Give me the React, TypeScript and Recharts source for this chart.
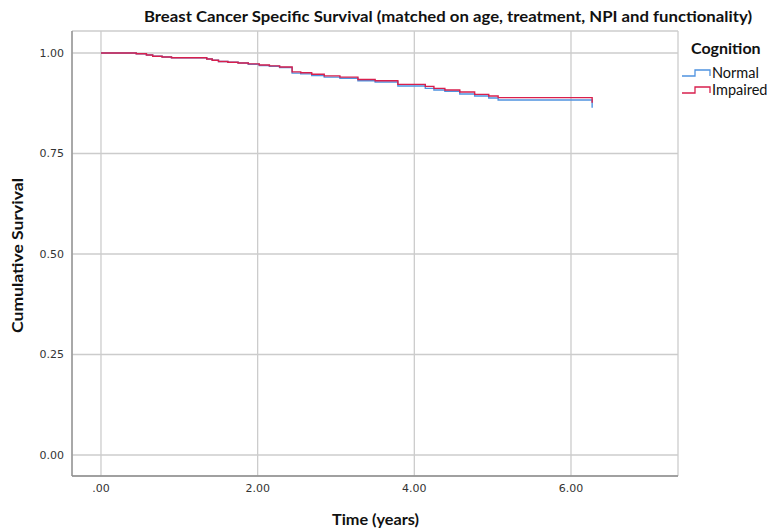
import React from "react";
import { LineChart, Line, XAxis, YAxis, CartesianGrid } from "recharts";

// Kaplan–Meier step estimates (time in years, cumulative survival)
const normalTimes = [
  0, 0.45, 0.58, 0.66, 0.78, 0.9, 1.35, 1.42, 1.5, 1.62, 1.75, 1.88, 2.02, 2.15,
  2.28, 2.44, 2.55, 2.69, 2.85, 3.05, 3.28, 3.5, 3.79, 4.14, 4.25, 4.39, 4.58,
  4.77, 4.95, 5.07, 6.27,
];
const normalSurvival = [
  1, 0.998, 0.995, 0.992, 0.99, 0.988, 0.985, 0.982, 0.979, 0.977, 0.975, 0.972,
  0.969, 0.967, 0.964, 0.95, 0.948, 0.944, 0.94, 0.937, 0.931, 0.928, 0.918,
  0.912, 0.908, 0.905, 0.898, 0.893, 0.888, 0.883, 0.864,
];

const impairedTimes = [
  0, 0.45, 0.58, 0.66, 0.78, 0.9, 1.35, 1.42, 1.5, 1.62, 1.75, 1.88, 2.02, 2.15,
  2.28, 2.44, 2.55, 2.69, 2.85, 3.05, 3.28, 3.5, 3.79, 4.14, 4.25, 4.39, 4.58,
  4.77, 4.95, 5.07, 6.27,
];
const impairedSurvival = [
  1, 0.998, 0.995, 0.992, 0.99, 0.988, 0.985, 0.982, 0.979, 0.977, 0.975, 0.973,
  0.97, 0.968, 0.965, 0.953, 0.951, 0.947, 0.943, 0.94, 0.934, 0.931, 0.922,
  0.917, 0.912, 0.908, 0.903, 0.897, 0.893, 0.889, 0.876,
];

const xTicks = [0, 2, 4, 6];
const yTicks = [0, 0.25, 0.5, 0.75, 1];

const groups = [
  { name: "Normal", color: "#4f93e0" },
  { name: "Impaired", color: "#d81f4d" },
];

const toRows = (times: number[], values: number[]) =>
  times.map((t, i) => ({ t, s: values[i] }));

const normalData = toRows(normalTimes, normalSurvival);
const impairedData = toRows(impairedTimes, impairedSurvival);

const fmtX = (v: number) => (v === 0 ? ".00" : v.toFixed(2));
const fmtY = (v: number) => v.toFixed(2);

const W = 773;
const H = 532;
const FONT = "Lato, 'Open Sans', sans-serif";

function StepLegend() {
  return (
    <div
      style={{
        position: "absolute",
        left: 681,
        top: 38,
        fontFamily: FONT,
        color: "#111",
      }}
    >
      <div style={{ fontWeight: 700, fontSize: 16, lineHeight: "20px", marginLeft: 10, marginBottom: 6 }}>
        Cognition
      </div>
      {groups.map((g) => (
        <div
          key={g.name}
          style={{ display: "flex", alignItems: "center", height: 17, fontSize: 14.5 }}
        >
          <svg width={31} height={10} style={{ marginRight: 0 }}>
            <polyline
              points="1,8 14,8 14,2 29,2 29,8"
              fill="none"
              stroke={g.color}
              strokeWidth={1.3}
            />
          </svg>
          <span>{g.name}</span>
        </div>
      ))}
    </div>
  );
}

export default function App() {
  return (
    <div style={{ position: "absolute", left: 0, top: 0, width: W, height: H, background: "#fff" }}>
      <LineChart
        width={W}
        height={H}
        margin={{ top: 31, right: 95, bottom: 26, left: 0 }}
      >
        <CartesianGrid stroke="#cccccc" strokeWidth={1.3} />
        <XAxis
          type="number"
          dataKey="t"
          domain={[-0.37, 7.366]}
          ticks={xTicks}
          tickFormatter={fmtX}
          allowDataOverflow
          height={30}
          axisLine={{ stroke: "#8c8c8c", strokeWidth: 1.3 }}
          tickLine={false}
          tick={{ fill: "#333", fontSize: 11, fontFamily: "'DejaVu Sans', sans-serif" }}
        />
        <YAxis
          type="number"
          dataKey="s"
          domain={[-0.0522, 1.0547]}
          ticks={yTicks}
          tickFormatter={fmtY}
          allowDataOverflow
          width={72}
          axisLine={{ stroke: "#8c8c8c", strokeWidth: 1.3 }}
          tickLine={false}
          tick={{ fill: "#333", fontSize: 11, fontFamily: "'DejaVu Sans', sans-serif" }}
        />
        <Line
          data={normalData}
          dataKey="s"
          name="Normal"
          type="stepAfter"
          stroke={groups[0].color}
          strokeWidth={1.4}
          dot={false}
          isAnimationActive={false}
        />
        <Line
          data={impairedData}
          dataKey="s"
          name="Impaired"
          type="stepAfter"
          stroke={groups[1].color}
          strokeWidth={1.4}
          dot={false}
          isAnimationActive={false}
        />
      </LineChart>
      <StepLegend />
      <svg
        width={W}
        height={H}
        style={{ position: "absolute", left: 0, top: 0, pointerEvents: "none" }}
      >
        <text
          x={448}
          y={22}
          textAnchor="middle"
          fontFamily={FONT}
          fontWeight={700}
          fontSize={15.5}
          fill="#111"
          textLength={608}
          lengthAdjust="spacingAndGlyphs"
        >
          Breast Cancer Specific Survival (matched on age, treatment, NPI and functionality)
        </text>
        <text
          x={375.5}
          y={525}
          textAnchor="middle"
          fontFamily={FONT}
          fontWeight={700}
          fontSize={16}
          fill="#111"
          textLength={87}
          lengthAdjust="spacingAndGlyphs"
        >
          Time (years)
        </text>
        <text
          x={0}
          y={0}
          transform="translate(22.5,255.5) rotate(-90)"
          textAnchor="middle"
          fontFamily={FONT}
          fontWeight={700}
          fontSize={16}
          fill="#111"
          textLength={155}
          lengthAdjust="spacingAndGlyphs"
        >
          Cumulative Survival
        </text>
      </svg>
    </div>
  );
}
